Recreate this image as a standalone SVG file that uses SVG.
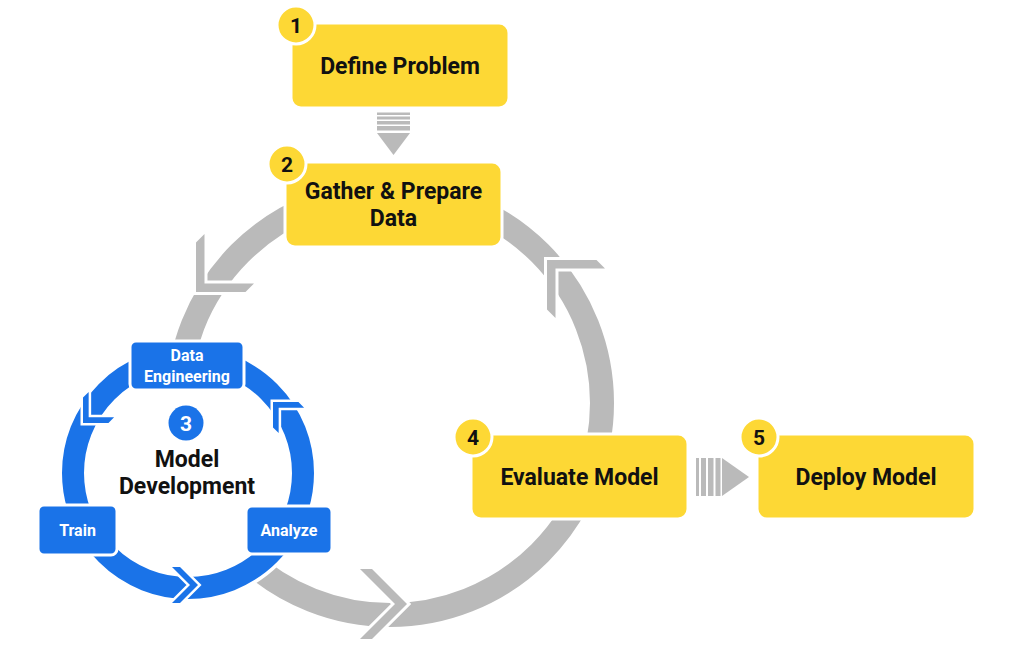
<svg xmlns="http://www.w3.org/2000/svg" width="1017" height="658" viewBox="0 0 1017 658">
<defs>
<style>
.ybox{fill:#FDD835;stroke:#ffffff;stroke-width:3}
.badge{fill:#FDD835;stroke:#ffffff;stroke-width:3}
.bbox{fill:#1A73E8;stroke:#ffffff;stroke-width:3}
.t{font-family:Roboto,"Liberation Sans",Arial,sans-serif;font-weight:700;text-anchor:middle}
.big{font-size:23px;fill:#111111}
.num{font-size:21px;fill:#111111}
.small{font-size:16px;fill:#ffffff}
.gchev{fill:#BABABA;stroke:#ffffff;stroke-width:6;paint-order:stroke;stroke-linejoin:miter}
.bchev{fill:#1A73E8;stroke:#ffffff;stroke-width:5;paint-order:stroke;stroke-linejoin:miter}
.arr{fill:#BABABA}
</style>
<polygon id="gc" class="gchev" points="-35,-35 0,0 -35,35 -47,35 -12,0 -47,-35"/>
<polygon id="bc" class="bchev" points="-18,-18 0,0 -18,18 -26,18 -8,0 -26,-18"/>
</defs>
<rect width="1017" height="658" fill="#ffffff"/>
<g id="connectors">
  <circle cx="390" cy="403" r="212" fill="none" stroke="#BABABA" stroke-width="24"/>
  <use href="#gc" transform="translate(407,604)"/>
  <use href="#gc" transform="translate(196,292) rotate(135)"/>
  <use href="#gc" transform="translate(547,260) rotate(225)"/>
  <circle cx="188" cy="473" r="115" fill="#ffffff" stroke="#ffffff" stroke-width="29"/>
  <circle cx="188" cy="473" r="115" fill="none" stroke="#1A73E8" stroke-width="22"/>
  <use href="#bc" transform="translate(198,585)"/>
  <use href="#bc" transform="translate(83,423) rotate(135)"/>
  <use href="#bc" transform="translate(273,402) rotate(225)"/>
  <g id="arrow-1-2" class="arr">
    <rect x="377" y="112.5" width="33" height="2.5"/>
    <rect x="377" y="116.5" width="33" height="3"/>
    <rect x="377" y="121" width="33" height="3.5"/>
    <rect x="377" y="126" width="33" height="4.5"/>
    <polygon points="377,133 410,133 393.5,155"/>
  </g>
  <g id="arrow-4-5" class="arr">
    <rect x="696" y="458" width="3" height="38"/>
    <rect x="701" y="458" width="5" height="38"/>
    <rect x="708" y="458" width="5.5" height="38"/>
    <rect x="715.5" y="458" width="5" height="38"/>
    <polygon points="722,458 749,477 722,496"/>
  </g>
</g>
<g id="node-define">
  <rect class="ybox" x="291" y="23" width="218" height="85" rx="10"/>
  <circle class="badge" cx="296" cy="25" r="19"/>
  <text class="t num" x="296" y="32.5">1</text>
  <text class="t big" x="400" y="74">Define Problem</text>
</g>
<g id="node-gather">
  <rect class="ybox" x="285" y="162" width="217" height="85" rx="10"/>
  <circle class="badge" cx="287" cy="164" r="19"/>
  <text class="t num" x="287" y="171.5">2</text>
  <text class="t big" x="393.5" y="199">Gather &amp; Prepare</text>
  <text class="t big" x="393.5" y="226">Data</text>
</g>
<g id="node-model-dev">
  <circle cx="186" cy="423" r="17.5" fill="#1A73E8"/>
  <text class="t" x="186" y="430.5" font-size="21" fill="#ffffff">3</text>
  <text class="t big" x="187" y="467">Model</text>
  <text class="t big" x="187" y="494">Development</text>
</g>
<g id="node-data-eng">
  <rect class="bbox" x="130" y="341" width="114" height="49" rx="6"/>
  <text class="t small" x="187" y="361">Data</text>
  <text class="t small" x="187" y="382">Engineering</text>
</g>
<g id="node-train">
  <rect class="bbox" x="38" y="505" width="79" height="50" rx="6"/>
  <text class="t small" x="77.5" y="536">Train</text>
</g>
<g id="node-analyze">
  <rect class="bbox" x="246" y="506" width="86" height="48" rx="6"/>
  <text class="t small" x="289" y="536">Analyze</text>
</g>
<g id="node-evaluate">
  <rect class="ybox" x="471" y="434" width="217" height="85" rx="10"/>
  <circle class="badge" cx="473" cy="437" r="19"/>
  <text class="t num" x="473" y="444.5">4</text>
  <text class="t big" x="579.5" y="485">Evaluate Model</text>
</g>
<g id="node-deploy">
  <rect class="ybox" x="757" y="434" width="218" height="85" rx="10"/>
  <circle class="badge" cx="759" cy="437" r="19"/>
  <text class="t num" x="759" y="444.5">5</text>
  <text class="t big" x="866" y="485">Deploy Model</text>
</g>
</svg>
